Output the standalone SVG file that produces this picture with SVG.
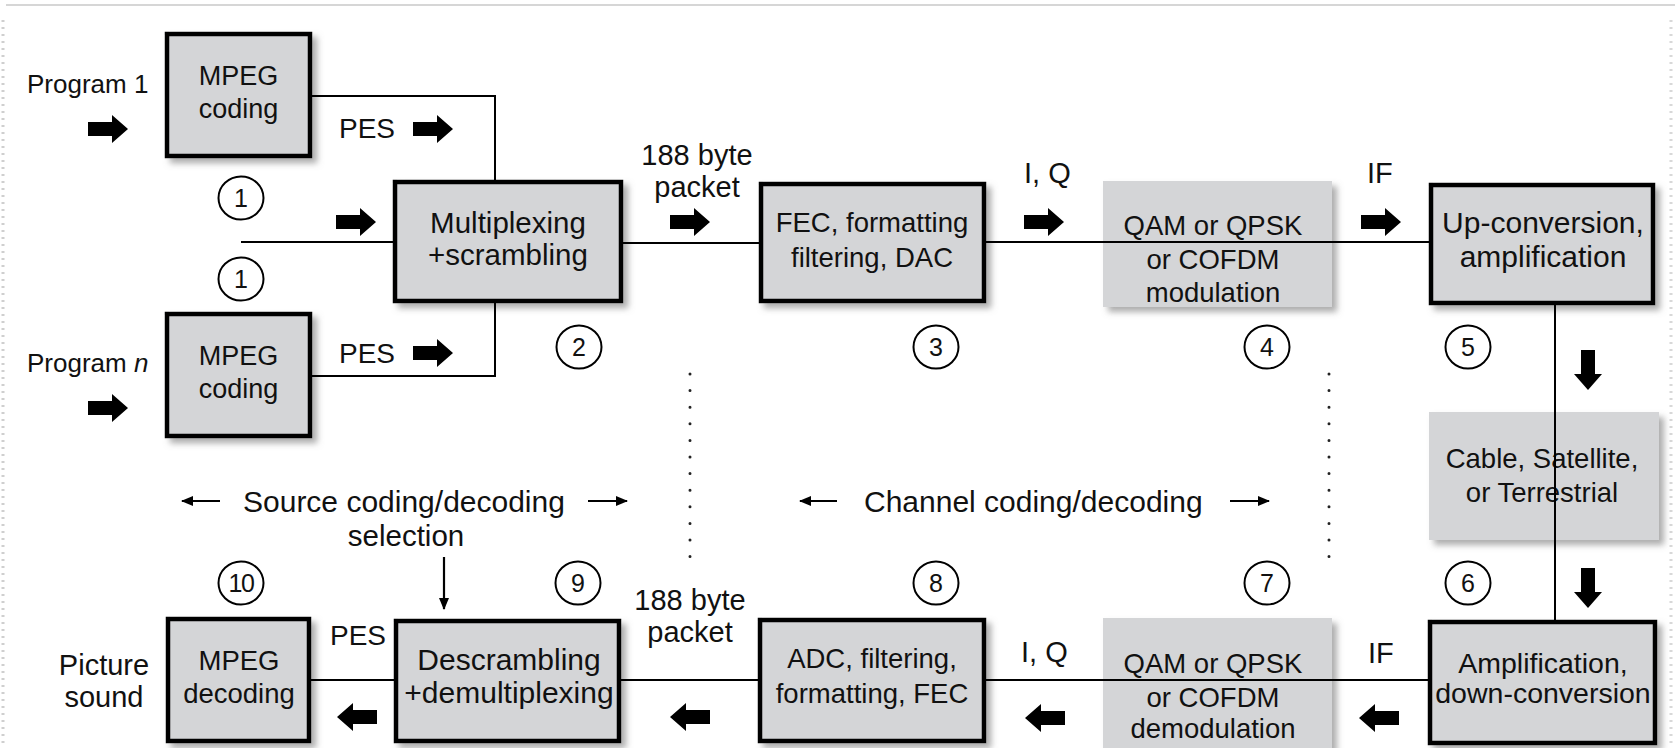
<svg xmlns="http://www.w3.org/2000/svg" xmlns:xlink="http://www.w3.org/1999/xlink" width="1675" height="748" viewBox="0 0 1675 748">
<style>
text{font-family:"Liberation Sans",Arial,Helvetica,sans-serif;fill:#111;}
.bx{fill:#d4d5d7;stroke:#000;stroke-width:4.5;filter:url(#sh);}
.gb{fill:#d4d5d7;stroke:none;filter:url(#sh);}
.c{text-anchor:middle;}
.ln{stroke:#000;stroke-width:2;fill:none;}
.num{fill:#fff;stroke:#000;stroke-width:2;}
.nt{font-size:25px;text-anchor:middle;}
.dot{stroke:#222;stroke-width:3;stroke-linecap:round;stroke-dasharray:0 16.6;fill:none;}
.thin{stroke:#000;stroke-width:2.2;fill:none;marker-end:url(#ah);}
</style>
<defs>
<filter id="sh" x="-10%" y="-10%" width="130%" height="130%">
<feDropShadow dx="5" dy="5" stdDeviation="3" flood-color="#777" flood-opacity="0.6"/>
</filter>
<path id="ba" d="M0,-7 H24 V-14 L40,0 L24,14 V7 H0 Z" fill="#000"/>
<marker id="ah" viewBox="0 0 12 10" refX="11" refY="5" markerWidth="12" markerHeight="10" markerUnits="userSpaceOnUse" orient="auto">
<path d="M0,0 L12,5 L0,10 Z" fill="#000"/>
</marker>
</defs>
<rect x="0" y="0" width="1675" height="748" fill="#fff"/>
<line x1="6" y1="5" x2="1675" y2="5" stroke="#d6d6d6" stroke-width="2"/>
<line x1="3" y1="20" x2="3" y2="748" stroke="#cfcfcf" stroke-width="3" stroke-dasharray="2 5"/>
<line x1="1671" y1="20" x2="1671" y2="748" stroke="#d8d8d8" stroke-width="3" stroke-dasharray="2 5"/>

<g id="prog1">
<text x="27" y="93" font-size="26">Program 1</text>
<use xlink:href="#ba" x="88" y="129"/>
</g>
<g id="progn">
<text x="27" y="372" font-size="26">Program <tspan font-style="italic">n</tspan></text>
<use xlink:href="#ba" x="88" y="408"/>
</g>
<g id="mpeg1">
<rect class="bx" x="167" y="34" width="143" height="122"/>
<text class="c" x="238.5" y="85" font-size="27">MPEG</text>
<text class="c" x="238.5" y="118" font-size="27">coding</text>
</g>
<g id="mpegn">
<rect class="bx" x="167" y="314" width="143" height="122"/>
<text class="c" x="238.5" y="365" font-size="27">MPEG</text>
<text class="c" x="238.5" y="398" font-size="27">coding</text>
</g>
<g id="mux">
<rect class="bx" x="395" y="182" width="226" height="119"/>
<text class="c" x="508" y="233" font-size="29.5">Multiplexing</text>
<text class="c" x="508" y="265" font-size="29.5">+scrambling</text>
</g>
<g id="fec">
<rect class="bx" x="761" y="184" width="223" height="117"/>
<text class="c" x="872" y="232" font-size="27.5">FEC, formatting</text>
<text class="c" x="872" y="267" font-size="27.5">filtering, DAC</text>
</g>
<g id="mod">
<rect class="gb" x="1103" y="181" width="229" height="126"/>
<text class="c" x="1213" y="235" font-size="27.5">QAM or QPSK</text>
<text class="c" x="1213" y="269" font-size="27.5">or COFDM</text>
<text class="c" x="1213" y="302" font-size="27.5">modulation</text>
</g>
<g id="upconv">
<rect class="bx" x="1431" y="185" width="222" height="118"/>
<text class="c" x="1543" y="233" font-size="30">Up-conversion,</text>
<text class="c" x="1543" y="267" font-size="30">amplification</text>
</g>
<g id="channel">
<rect class="gb" x="1429" y="412" width="230" height="128"/>
<text class="c" x="1542" y="468" font-size="27.5">Cable, Satellite,</text>
<text class="c" x="1542" y="502" font-size="27.5">or Terrestrial</text>
</g>
<g id="downconv">
<rect class="bx" x="1430" y="622" width="225" height="121"/>
<text class="c" x="1543" y="673" font-size="28.5">Amplification,</text>
<text class="c" x="1543" y="703" font-size="28.5">down-conversion</text>
</g>
<g id="demod">
<rect class="gb" x="1103" y="618" width="229" height="135"/>
<text class="c" x="1213" y="673" font-size="27.5">QAM or QPSK</text>
<text class="c" x="1213" y="707" font-size="27.5">or COFDM</text>
<text class="c" x="1213" y="738" font-size="27.5">demodulation</text>
</g>
<g id="adc">
<rect class="bx" x="760" y="620" width="224" height="121"/>
<text class="c" x="872" y="668" font-size="27.5">ADC, filtering,</text>
<text class="c" x="872" y="703" font-size="27.5">formatting, FEC</text>
</g>
<g id="demux">
<rect class="bx" x="396" y="621" width="223" height="120"/>
<text class="c" x="509" y="670" font-size="30">Descrambling</text>
<text class="c" x="509" y="703" font-size="30">+demultiplexing</text>
</g>
<g id="mpegdec">
<rect class="bx" x="168" y="619" width="141" height="122"/>
<text class="c" x="239" y="670" font-size="27.5">MPEG</text>
<text class="c" x="239" y="703" font-size="27.5">decoding</text>
</g>
<g id="output">
<text class="c" x="104" y="675" font-size="29">Picture</text>
<text class="c" x="104" y="707" font-size="29">sound</text>
</g>

<g id="labels">
<text x="339" y="138" font-size="28">PES</text>
<text x="339" y="363" font-size="28">PES</text>
<text class="c" x="697" y="165" font-size="29">188 byte</text>
<text class="c" x="697" y="197" font-size="29">packet</text>
<text x="1024" y="183" font-size="29">I, Q</text>
<text x="1367" y="183" font-size="29">IF</text>
<text x="330" y="645" font-size="28">PES</text>
<text class="c" x="690" y="610" font-size="29">188 byte</text>
<text class="c" x="690" y="642" font-size="29">packet</text>
<text x="1021" y="662" font-size="29">I, Q</text>
<text x="1368" y="663" font-size="29">IF</text>
<text x="243" y="512" font-size="30">Source coding/decoding</text>
<text class="c" x="406" y="546" font-size="29.5">selection</text>
<text x="864" y="512" font-size="30">Channel coding/decoding</text>
</g>

<g id="steps">
<ellipse class="num" cx="241" cy="198" rx="22.5" ry="21.5"/><text class="nt" x="241" y="207">1</text>
<ellipse class="num" cx="241" cy="279" rx="22.5" ry="21.5"/><text class="nt" x="241" y="288">1</text>
<ellipse class="num" cx="579" cy="347" rx="22.5" ry="21.5"/><text class="nt" x="579" y="356">2</text>
<ellipse class="num" cx="936" cy="347" rx="22.5" ry="21.5"/><text class="nt" x="936" y="356">3</text>
<ellipse class="num" cx="1267" cy="347" rx="22.5" ry="21.5"/><text class="nt" x="1267" y="356">4</text>
<ellipse class="num" cx="1468" cy="347" rx="22.5" ry="21.5"/><text class="nt" x="1468" y="356">5</text>
<ellipse class="num" cx="1468" cy="583" rx="22.5" ry="21.5"/><text class="nt" x="1468" y="592">6</text>
<ellipse class="num" cx="1267" cy="583" rx="22.5" ry="21.5"/><text class="nt" x="1267" y="592">7</text>
<ellipse class="num" cx="936" cy="583" rx="22.5" ry="21.5"/><text class="nt" x="936" y="592">8</text>
<ellipse class="num" cx="578" cy="583" rx="22.5" ry="21.5"/><text class="nt" x="578" y="592">9</text>
<ellipse class="num" cx="241" cy="583" rx="22.5" ry="21.5"/><text class="nt" x="241" y="592" letter-spacing="-1.5">10</text>
</g>

<g id="connectors">
<polyline class="ln" points="310,96 495,96 495,180"/>
<polyline class="ln" points="310,376 495,376 495,303"/>
<line class="ln" x1="241" y1="242" x2="395" y2="242"/>
<line class="ln" x1="621" y1="243" x2="761" y2="243"/>
<line class="ln" x1="984" y1="242" x2="1431" y2="242"/>
<line class="ln" x1="1555" y1="303" x2="1555" y2="622"/>
<line class="ln" x1="1430" y1="680" x2="984" y2="680"/>
<line class="ln" x1="760" y1="680" x2="619" y2="680"/>
<line class="ln" x1="396" y1="680" x2="309" y2="680"/>
<use xlink:href="#ba" x="413" y="129"/>
<use xlink:href="#ba" x="413" y="353"/>
<use xlink:href="#ba" x="336" y="222"/>
<use xlink:href="#ba" x="670" y="222"/>
<use xlink:href="#ba" x="1024" y="222"/>
<use xlink:href="#ba" x="1361" y="222"/>
<use xlink:href="#ba" transform="translate(1588,350) rotate(90)"/>
<use xlink:href="#ba" transform="translate(1588,568) rotate(90)"/>
<use xlink:href="#ba" transform="translate(1399,718) rotate(180)"/>
<use xlink:href="#ba" transform="translate(1065,718) rotate(180)"/>
<use xlink:href="#ba" transform="translate(710,717) rotate(180)"/>
<use xlink:href="#ba" transform="translate(377,717) rotate(180)"/>
<line class="thin" x1="220" y1="501" x2="182" y2="501"/>
<line class="thin" x1="588" y1="501" x2="627" y2="501"/>
<line class="thin" x1="837" y1="501" x2="800" y2="501"/>
<line class="thin" x1="1230" y1="501" x2="1269" y2="501"/>
<line class="thin" x1="444" y1="557" x2="444" y2="609"/>
<line class="dot" x1="690" y1="374" x2="690" y2="558"/>
<line class="dot" x1="1329" y1="374" x2="1329" y2="558"/>
</g>
</svg>
